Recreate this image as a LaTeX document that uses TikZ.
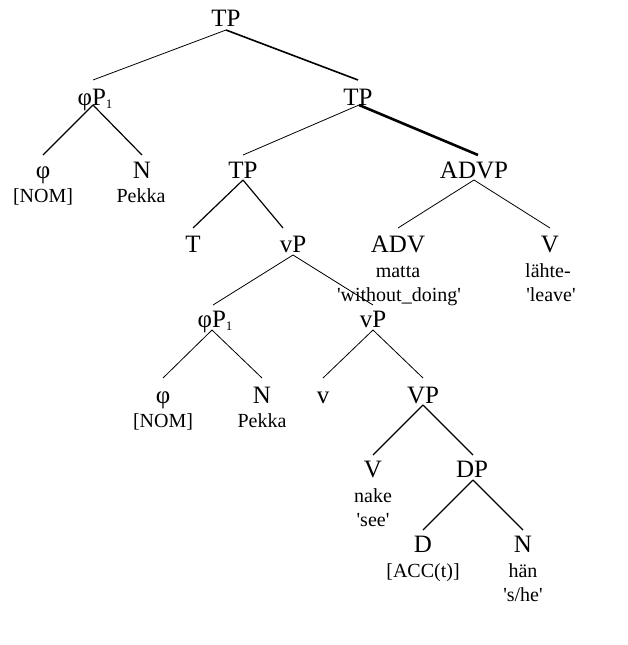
\documentclass[tikz,border=0pt]{standalone}
\usepackage{fontspec}
\setmainfont{Liberation Serif}
\setmonofont{Liberation Serif}
\newcommand{\myq}{\texttt{'}}
\newcommand{\phisub}{{\fontsize{13pt}{13pt}\selectfont\raisebox{-3pt}{1}}}
\tikzset{
  cat/.style={anchor=base, inner sep=0pt, font=\fontsize{25pt}{25pt}\selectfont},
  gl/.style={anchor=base, inner sep=0pt, font=\fontsize{20pt}{20pt}\selectfont},
  br/.style={line width=0.8pt},
  brm/.style={line width=1.2pt},
  brt/.style={line width=1.6pt},
  brx/.style={line width=2.6pt}
}
\begin{document}
\begin{tikzpicture}[x=1pt,y=-1pt]
\useasboundingbox[fill=white] (0,0) rectangle (628,645);
% level 0
\node[cat] (tp0) at (226,27) {TP};
\coordinate (tp0b) at (226,30);
% level 1
\node[cat] (phip) at (95,105) {φP\phisub};
\coordinate (phipt) at (93,80);
\coordinate (phipb) at (93,105);
\node[cat] (tp1) at (358,105) {TP};
\coordinate (tp1t) at (358,80);
\coordinate (tp1b) at (359,105);
% level 2
\node[cat] (phi1) at (43,178) {φ};
\coordinate (phi1t) at (43,155);
\node[gl] (nom1) at (43,202) {[NOM]};
\node[cat] (n1) at (142,178) {N};
\coordinate (n1t) at (142,155);
\node[gl] (pek1) at (141,202) {Pekka};
\node[cat] (tp2) at (243,178) {TP};
\coordinate (tp2t) at (243,155);
\coordinate (tp2b) at (243,180);
\node[cat] (advp) at (474,178) {ADVP};
\coordinate (advpt) at (478,155);
\coordinate (advpb) at (474,180);
% level 3
\node[cat] (t) at (193,252) {T};
\coordinate (tt) at (193,228);
\node[cat] (vp1) at (293,252) {vP};
\coordinate (vp1t) at (283,228);
\coordinate (vp1b) at (293,255);
\node[cat] (adv) at (398,252) {ADV};
\coordinate (advt) at (398,228);
\node[gl] (matta) at (398,277) {matta};
\node[gl] (wd) at (399,301) {\myq without\_doing\myq};
\node[cat] (v1) at (550,252) {V};
\coordinate (v1t) at (550,228);
\node[gl] (lahte) at (548,277) {lähte-};
\node[gl] (leave) at (551,301) {\myq leave\myq};
% level 4
\node[cat] (phip2) at (215,327) {φP\phisub};
\coordinate (phip2t) at (213,305);
\coordinate (phip2b) at (212,330);
\node[cat] (vp2) at (373,327) {vP};
\coordinate (vp2t) at (373,305);
\coordinate (vp2b) at (373,330);
% level 5
\node[cat] (phi2) at (163,403) {φ};
\coordinate (phi2t) at (163,378);
\node[gl] (nom2) at (163,427) {[NOM]};
\node[cat] (n2) at (262,403) {N};
\coordinate (n2t) at (262,378);
\node[gl] (pek2) at (262,427) {Pekka};
\node[cat] (sv) at (323,403) {v};
\coordinate (svt) at (323,378);
\node[cat] (vpp) at (423,403) {VP};
\coordinate (vppt) at (423,378);
\coordinate (vppb) at (423,405);
% level 6
\node[cat] (v2) at (373,477) {V};
\coordinate (v2t) at (373,455);
\node[gl] (nake) at (373,502) {nake};
\node[gl] (see) at (373,526) {\myq see\myq};
\node[cat] (dp) at (472,477) {DP};
\coordinate (dpt) at (473,455);
\coordinate (dpb) at (473,480);
% level 7
\node[cat] (d) at (423,552) {D};
\coordinate (dt) at (423,530);
\node[gl] (acc) at (423,577) {[ACC(t)]};
\node[cat] (n3) at (523,552) {N};
\coordinate (n3t) at (523,530);
\node[gl] (han) at (523,577) {hän};
\node[gl] (she) at (523,601) {\myq s/he\myq};
% branches
\draw[br] (tp0b) -- (phipt);
\draw[brt] (tp0b) -- (tp1t);
\draw[brm] (phipb) -- (phi1t);
\draw[brm] (phipb) -- (n1t);
\draw[br] (tp1b) -- (tp2t);
\draw[brx] (tp1b) -- (advpt);
\draw[brm] (tp2b) -- (tt);
\draw[brm] (tp2b) -- (vp1t);
\draw[br] (advpb) -- (advt);
\draw[br] (advpb) -- (v1t);
\draw[br] (vp1b) -- (phip2t);
\draw[br] (vp1b) -- (vp2t);
\draw[br] (phip2b) -- (phi2t);
\draw[br] (phip2b) -- (n2t);
\draw[br] (vp2b) -- (svt);
\draw[br] (vp2b) -- (vppt);
\draw[brm] (vppb) -- (v2t);
\draw[brm] (vppb) -- (dpt);
\draw[brm] (dpb) -- (dt);
\draw[brm] (dpb) -- (n3t);
\end{tikzpicture}
\end{document}
